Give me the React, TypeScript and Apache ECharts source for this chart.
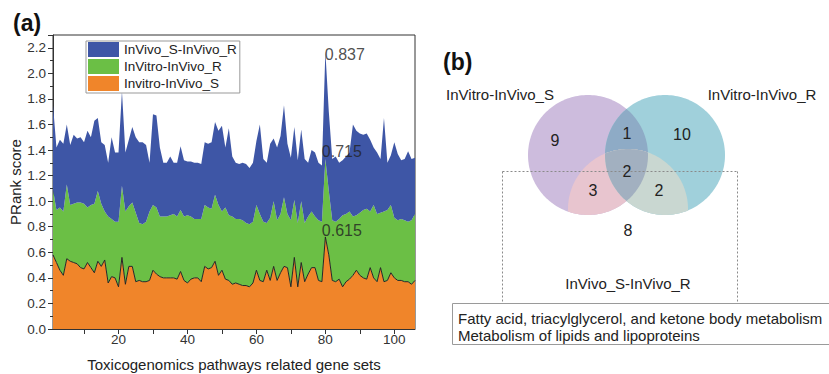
import React, { useEffect, useRef } from "react";
import * as echarts from "echarts";

// ---------------- Data: panel (a) ----------------
const pathwayIndex = Array.from({ length: 106 }, (_, k) => String(k + 1));

// Invitro-InVivo_S (bottom layer)
const invitroInvivoS = [
  0.58, 0.52, 0.46, 0.42, 0.55, 0.53, 0.52, 0.51, 0.48, 0.47,
  0.52, 0.48, 0.44, 0.53, 0.49, 0.54, 0.36, 0.41, 0.40, 0.33,
  0.56, 0.35, 0.49, 0.49, 0.37, 0.38, 0.37, 0.37, 0.38, 0.46,
  0.43, 0.41, 0.40, 0.40, 0.40, 0.40, 0.39, 0.45, 0.38, 0.36,
  0.39, 0.40, 0.40, 0.37, 0.49, 0.47, 0.48, 0.53, 0.42, 0.46,
  0.39, 0.38, 0.35, 0.36, 0.35, 0.34, 0.34, 0.33, 0.36, 0.46,
  0.38, 0.37, 0.46, 0.38, 0.49, 0.38, 0.44, 0.49, 0.48, 0.33,
  0.56, 0.33, 0.52, 0.37, 0.43, 0.48, 0.48, 0.38, 0.37, 0.72,
  0.58, 0.38, 0.37, 0.39, 0.33, 0.37, 0.39, 0.42, 0.46, 0.42,
  0.40, 0.39, 0.48, 0.40, 0.37, 0.48, 0.37, 0.38, 0.44, 0.40,
  0.38, 0.38, 0.37, 0.37, 0.35, 0.38,
];

// InVitro-InVivo_R (middle layer)
const invitroInvivoR = [
  0.51, 0.41, 0.49, 0.50, 0.58, 0.44, 0.46, 0.48, 0.51, 0.51,
  0.43, 0.49, 0.54, 0.55, 0.49, 0.38, 0.52, 0.45, 0.44, 0.51,
  0.56, 0.57, 0.47, 0.50, 0.54, 0.45, 0.45, 0.47, 0.54, 0.51,
  0.52, 0.47, 0.48, 0.48, 0.49, 0.50, 0.49, 0.48, 0.50, 0.53,
  0.49, 0.46, 0.46, 0.49, 0.48, 0.48, 0.46, 0.52, 0.55, 0.46,
  0.56, 0.51, 0.53, 0.50, 0.51, 0.51, 0.49, 0.49, 0.48, 0.51,
  0.52, 0.47, 0.37, 0.49, 0.51, 0.47, 0.46, 0.54, 0.42, 0.52,
  0.45, 0.50, 0.48, 0.46, 0.45, 0.44, 0.40, 0.47, 0.47, 0.61,
  0.50, 0.47, 0.47, 0.47, 0.56, 0.53, 0.53, 0.46, 0.43, 0.49,
  0.53, 0.55, 0.44, 0.57, 0.53, 0.43, 0.55, 0.55, 0.53, 0.47,
  0.47, 0.48, 0.48, 0.47, 0.50, 0.52,
];

// InVivo_S-InVivo_R (top layer)
const invivoSInvivoR = [
  0.66, 0.49, 0.53, 0.53, 0.47, 0.47, 0.54, 0.50, 0.51, 0.48,
  0.60, 0.53, 0.65, 0.57, 0.48, 0.52, 0.42, 0.64, 0.54, 0.54,
  0.74, 0.46, 0.52, 0.59, 0.59, 0.63, 0.64, 0.60, 0.38, 0.71,
  0.72, 0.54, 0.42, 0.42, 0.46, 0.40, 0.42, 0.50, 0.44, 0.42,
  0.43, 0.44, 0.44, 0.43, 0.49, 0.50, 0.52, 0.57, 0.58, 0.67,
  0.47, 0.68, 0.47, 0.44, 0.43, 0.45, 0.46, 0.44, 0.46, 0.50,
  0.70, 0.49, 0.47, 0.58, 0.49, 0.57, 0.61, 0.72, 0.55, 0.49,
  0.57, 0.49, 0.56, 0.50, 0.42, 0.48, 0.50, 0.45, 0.44, 0.84,
  0.62, 0.48, 0.51, 0.44, 0.43, 0.45, 0.46, 0.72, 0.66, 0.62,
  0.59, 0.59, 0.56, 0.45, 0.48, 0.42, 0.73, 0.37, 0.39, 0.59,
  0.52, 0.46, 0.48, 0.55, 0.48, 0.44,
];

const seriesNames = ["Invitro-InVivo_S", "InVitro-InVivo_R", "InVivo_S-InVivo_R"];
const legendOrder = ["InVivo_S-InVivo_R", "InVitro-InVivo_R", "Invitro-InVivo_S"];
const peakIndex = 80;
const peakLabels = ["0.837", "0.715", "0.615"]; // top, middle, bottom layer peaks
const xLabelEvery = 20;
const xTickEvery = 10;

// ---------------- Data: panel (b) ----------------
const vennSetNames = ["InVitro-InVivo_S", "InVitro-InVivo_R", "InVivo_S-InVivo_R"];
const vennRegions = ["A", "AB", "B", "ABC", "AC", "BC", "C"];
const vennCounts = [9, 1, 10, 2, 3, 2, 8];
const sharedPathways = [
  "Fatty acid, triacylglycerol, and ketone body metabolism",
  "Metabolism of lipids and lipoproteins",
];

// ---------------- Layout / styles ----------------
const FONT = "'Liberation Sans', Arial, Helvetica, sans-serif";
const COLORS = ["#f0852a", "#6bbf45", "#3e56a6"];

type P = [number, number];

function circlePoly(cx: number, cy: number, r: number, n = 180): P[] {
  const pts: P[] = [];
  for (let k = 0; k < n; k++) {
    const t = (k / n) * Math.PI * 2;
    pts.push([cx + r * Math.cos(t), cy + r * Math.sin(t)]);
  }
  return pts;
}

function clipPoly(subject: P[], clip: P[]): P[] {
  let output = subject;
  for (let i = 0; i < clip.length; i++) {
    const a = clip[i];
    const b = clip[(i + 1) % clip.length];
    const input = output;
    output = [];
    if (!input.length) break;
    const ex = b[0] - a[0];
    const ey = b[1] - a[1];
    const inside = (p: P) => ex * (p[1] - a[1]) - ey * (p[0] - a[0]) >= 0;
    const inter = (p: P, q: P): P => {
      const dx = q[0] - p[0];
      const dy = q[1] - p[1];
      const den = ex * dy - ey * dx;
      const t = den === 0 ? 0 : (ey * (p[0] - a[0]) - ex * (p[1] - a[1])) / den;
      return [p[0] + t * dx, p[1] + t * dy];
    };
    for (let j = 0; j < input.length; j++) {
      const cur = input[j];
      const prev = input[(j + input.length - 1) % input.length];
      const ci = inside(cur);
      const pi = inside(prev);
      if (ci) {
        if (!pi) output.push(inter(prev, cur));
        output.push(cur);
      } else if (pi) {
        output.push(inter(prev, cur));
      }
    }
  }
  return output;
}

function buildVenn(): any[] {
  const r = 60;
  const A = circlePoly(588, 155, r);
  const B = circlePoly(665, 155, r);
  const C = circlePoly(628, 209, r);
  const AB = clipPoly(A, B);
  const AC = clipPoly(A, C);
  const BC = clipPoly(B, C);
  const ABC = clipPoly(AB, C);
  const poly = (pts: P[], fill: string, z: number) => ({
    type: "polygon",
    shape: { points: pts },
    style: { fill, stroke: null },
    z,
    silent: true,
  });
  const els: any[] = [
    poly(A, "#cdbcdd", 1),
    poly(B, "#a0d0db", 1),
    poly(AB, "#8eabc6", 2),
    poly(AC, "#e8c5cf", 2),
    poly(BC, "#c9d7d1", 2),
    poly(ABC, "#a2b0c0", 3),
  ];
  const countPos: Record<string, P> = {
    A: [555, 140],
    AB: [627, 133],
    B: [682, 134],
    ABC: [627, 171],
    AC: [593, 190],
    BC: [659, 190],
    C: [628, 230],
  };
  vennRegions.forEach((key, k) => {
    const [x, y] = countPos[key];
    els.push({
      type: "text",
      x,
      y,
      z: 6,
      style: {
        text: String(vennCounts[k]),
        fontSize: 16,
        fontFamily: FONT,
        fill: "#222",
        align: "center",
        verticalAlign: "middle",
      },
    });
  });
  const namePos: P[] = [
    [500, 94],
    [762, 94],
    [628, 283],
  ];
  vennSetNames.forEach((name, k) => {
    els.push({
      type: "text",
      x: namePos[k][0],
      y: namePos[k][1],
      z: 6,
      style: {
        text: name,
        fontSize: 15,
        fontFamily: FONT,
        fill: "#222",
        align: "center",
        verticalAlign: "middle",
      },
    });
  });
  const dash = { stroke: "#8a8a8a", lineWidth: 1, lineDash: [2, 2] };
  els.push(
    { type: "line", z: 5, shape: { x1: 502.5, y1: 171.5, x2: 737.5, y2: 171.5 }, style: dash },
    { type: "line", z: 5, shape: { x1: 502.5, y1: 171.5, x2: 502.5, y2: 303 }, style: dash },
    { type: "line", z: 5, shape: { x1: 737.5, y1: 171.5, x2: 737.5, y2: 303 }, style: dash },
    {
      type: "rect",
      z: 5,
      shape: { x: 452.5, y: 303.5, width: 420, height: 41 },
      style: { fill: "#fff", stroke: "#9a9a9a", lineWidth: 1 },
    }
  );
  sharedPathways.forEach((t, k) => {
    els.push({
      type: "text",
      x: 458,
      y: 318 + k * 17,
      z: 6,
      style: {
        text: t,
        fontSize: 15,
        fontFamily: FONT,
        fill: "#222",
        align: "left",
        verticalAlign: "middle",
      },
    });
  });
  els.push(
    {
      type: "text",
      x: 13,
      y: 23,
      z: 6,
      style: { text: "(a)", fontSize: 23, fontWeight: "bold", fontFamily: FONT, fill: "#111", align: "left", verticalAlign: "middle" },
    },
    {
      type: "text",
      x: 443,
      y: 62,
      z: 6,
      style: { text: "(b)", fontSize: 23, fontWeight: "bold", fontFamily: FONT, fill: "#111", align: "left", verticalAlign: "middle" },
    }
  );
  return els;
}

export default function App() {
  const ref = useRef<HTMLDivElement>(null);
  useEffect(() => {
    if (!ref.current) return;
    const chart = echarts.init(ref.current, undefined, { renderer: "svg" });
    const layers = [invitroInvivoS, invitroInvivoR, invivoSInvivoR];
    const k = peakIndex - 1;
    const tops = [
      invitroInvivoS[k],
      invitroInvivoS[k] + invitroInvivoR[k],
      invitroInvivoS[k] + invitroInvivoR[k] + invivoSInvivoR[k],
    ];
    const labelPos: P[] = [
      [-3, -6],
      [-3, -7],
      [0, 3],
    ];
    const axisColor = "#333";
    const option: any = {
      animation: false,
      textStyle: { fontFamily: FONT },
      grid: {
        left: 53,
        top: 35,
        width: 362,
        height: 294,
        show: true,
        borderColor: axisColor,
        borderWidth: 1,
        backgroundColor: "transparent",
        containLabel: false,
        outerBoundsMode: "none",
      },
      legend: {
        data: legendOrder,
        orient: "vertical",
        left: 86,
        top: 41,
        itemWidth: 31,
        itemHeight: 15,
        itemGap: 2,
        padding: [1, 3, 2, 2],
        borderColor: "#999",
        borderWidth: 1,
        backgroundColor: "#fff",
        icon: "rect",
        selectedMode: false,
        textStyle: { fontSize: 13.5, color: "#222", fontFamily: FONT },
        z: 10,
      },
      xAxis: {
        type: "category",
        data: pathwayIndex,
        boundaryGap: false,
        name: "Toxicogenomics pathways related gene sets",
        nameLocation: "middle",
        nameGap: 28,
        nameTextStyle: { fontSize: 15, color: "#222", fontFamily: FONT },
        axisLine: { show: true, onZero: false, lineStyle: { color: axisColor, width: 1 } },
        axisTick: {
          show: true,
          length: 5,
          interval: (_i: number, v: string) => Number(v) % xTickEvery === 0,
          lineStyle: { color: axisColor },
        },
        axisLabel: {
          interval: (_i: number, v: string) => Number(v) % xLabelEvery === 0,
          fontSize: 13.5,
          color: "#333",
          margin: 3,
          fontFamily: FONT,
        },
        splitLine: { show: false },
      },
      yAxis: {
        type: "value",
        min: 0,
        max: 2.3,
        interval: 0.2,
        name: "PRank score",
        nameLocation: "middle",
        nameRotate: 90,
        nameGap: 29,
        nameTextStyle: { fontSize: 15, color: "#222", fontFamily: FONT },
        axisLine: { show: true, onZero: false, lineStyle: { color: axisColor, width: 1 } },
        axisTick: { show: true, length: 5, lineStyle: { color: axisColor } },
        minorTick: { show: true, splitNumber: 2, length: 3, lineStyle: { color: axisColor } },
        axisLabel: {
          fontSize: 13.5,
          color: "#333",
          margin: 7,
          fontFamily: FONT,
          showMaxLabel: false,
          formatter: (v: number) => v.toFixed(1),
        },
        splitLine: { show: false },
        minorSplitLine: { show: false },
      },
      series: [
        ...layers.map((vals, li) => ({
          type: "line",
          name: seriesNames[li],
          stack: "total",
          data: vals,
          showSymbol: false,
          symbol: "none",
          lineStyle: li === 0 ? { color: "#262626", width: 1 } : { width: 0, opacity: 0 },
          areaStyle: { color: COLORS[li], opacity: 1 },
          itemStyle: { color: COLORS[li] },
          z: 2,
          silent: true,
        })),
        {
          type: "scatter",
          name: "peaks",
          symbolSize: 1,
          itemStyle: { color: "rgba(0,0,0,0)" },
          silent: true,
          z: 5,
          data: tops.map((y, j) => ({
            value: [String(peakIndex), y],
            label: {
              show: true,
              formatter: peakLabels[2 - j],
              position: labelPos[j],
              align: "left",
              verticalAlign: "middle",
              fontSize: 16,
              color: "#222",
              fontFamily: FONT,
            },
          })),
        },
      ],
      graphic: buildVenn(),
    };
    chart.setOption(option);
    return () => chart.dispose();
  }, []);
  return (
    <div
      ref={ref}
      style={{ position: "fixed", left: 0, top: 0, width: 829, height: 374, background: "#fff" }}
    />
  );
}
